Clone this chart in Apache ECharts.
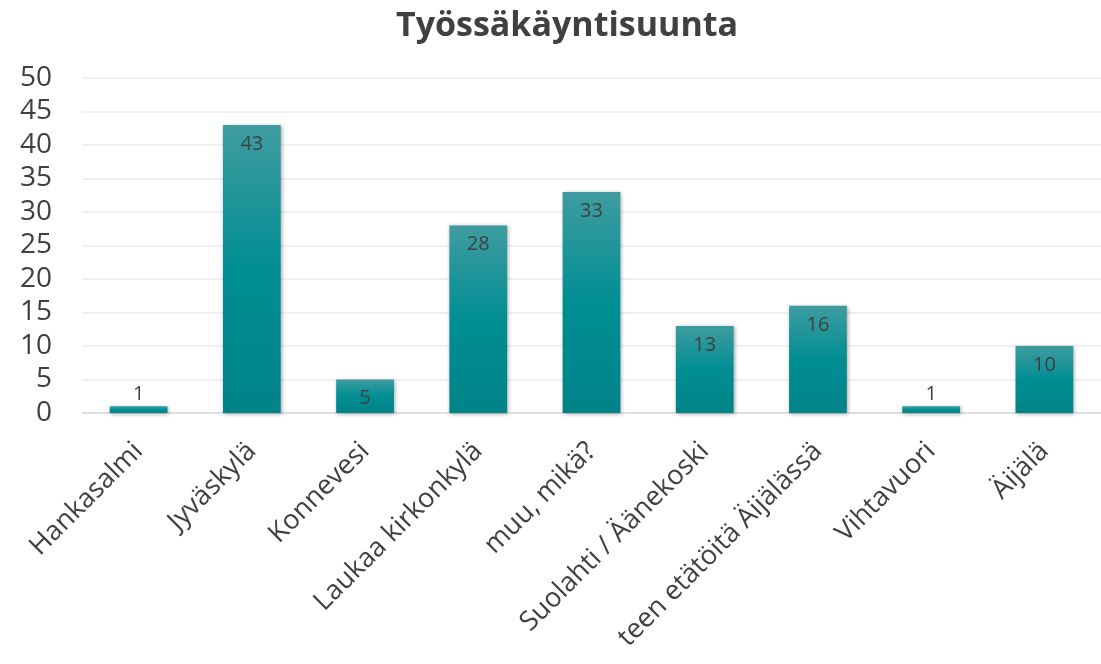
<!DOCTYPE html>
<html><head><meta charset="utf-8">
<script src="https://cdn.jsdelivr.net/npm/echarts@6/dist/echarts.min.js"></script>
<style>html,body{margin:0;padding:0;background:#fff}#c{width:1101px;height:664px}</style>
</head><body><div id="c"></div>
<script>
const titleText = "Työssäkäyntisuunta";
const categories = ["Hankasalmi","Jyväskylä","Konnevesi","Laukaa kirkonkylä","muu, mikä?","Suolahti / Äänekoski","teen etätöitä Äijälässä","Vihtavuori","Äijälä"];
const values = [1,43,5,28,33,13,16,1,10];
const yMin = 0, yMax = 50, yInterval = 5;

const font = "'Open Sans', 'Noto Sans', sans-serif";
const chart = echarts.init(document.getElementById('c'), null, {renderer:'canvas'});
chart.setOption({
  animation:false,
  title:{text:titleText,left:562,textAlign:'center',top:4,
    textStyle:{fontFamily:font,fontSize:34,fontWeight:'bold',color:'#404040'}},
  grid:{left:82,right:0,top:78,bottom:251,containLabel:false},
  xAxis:{type:'category',data:categories,
    axisLine:{lineStyle:{color:'#d9d9d9',width:1.5}},axisTick:{show:false},
    axisLabel:{rotate:45,interval:0,margin:34,fontFamily:font,fontSize:27,color:'#404040'}},
  yAxis:{type:'value',min:yMin,max:yMax,interval:yInterval,
    axisLine:{show:false},axisTick:{show:false},
    splitLine:{lineStyle:{color:'#ebebeb',width:1.5}},
    axisLabel:{margin:30,fontFamily:font,fontSize:28,color:'#404040'}},
  series:[{type:'bar',barWidth:'51%',
    data:values.map(v=>({value:v,label:{position: v<3?'top':'insideTop', distance: v<3?2:9}})),
    itemStyle:{color:new echarts.graphic.LinearGradient(0,0,0,1,[
      {offset:0,color:'#3f9ca0'},{offset:0.5,color:'#008e93'},{offset:1,color:'#008389'}]),
      shadowColor:'rgba(0,0,0,0.35)',shadowBlur:4,shadowOffsetX:1,shadowOffsetY:1},
    label:{show:true,fontFamily:font,fontSize:20,color:'#404040'}}]
});
</script></body></html>
